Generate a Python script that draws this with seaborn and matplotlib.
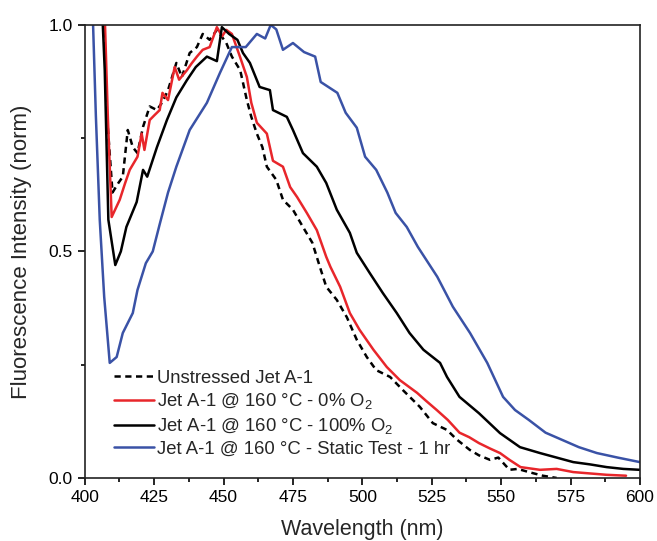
import numpy as np
import pandas as pd
import matplotlib
matplotlib.use("Agg")
import matplotlib.pyplot as plt
from matplotlib.ticker import MultipleLocator
import seaborn as sns

# Values (wavelength in nm, normalised intensity)
UNSTRESSED_X = [406.5, 408, 410, 412, 413.7, 415.5, 417.3, 419, 421, 423.4, 426, 428, 430, 433, 435,
                437.8, 440.4, 442.5, 445, 447.6, 451, 453, 456, 458.4, 460, 462, 464, 465.6, 469, 471.4,
                475, 478.6, 482, 484.7, 487, 490.8, 494.4, 498, 501.6, 505, 510, 514.6, 520.7, 525.4,
                530.5, 534, 538.7, 542, 546, 549, 553, 556, 560, 565, 570]
UNSTRESSED_Y = [1.1, 0.8, 0.63, 0.65, 0.665, 0.768, 0.73, 0.717, 0.775, 0.82, 0.812, 0.83, 0.856, 0.916, 0.885,
                0.938, 0.951, 0.98, 0.967, 0.989, 0.96, 0.93, 0.9, 0.834, 0.797, 0.76, 0.73, 0.687, 0.658, 0.614,
                0.592, 0.554, 0.519, 0.466, 0.422, 0.393, 0.355, 0.305, 0.267, 0.238, 0.223, 0.194, 0.157, 0.121,
                0.106, 0.085, 0.062, 0.05, 0.04, 0.045, 0.018, 0.02, 0.013, 0.005, 0.0]

RED_X = [406.8, 408.3, 409.7, 412.6, 414.5, 416.2, 419, 420.5, 421.5, 423.4, 425, 427, 428, 430, 432.4,
         434, 436.8, 438.5, 440.4, 442.5, 445, 447.6, 449.5, 451, 453, 455.9, 458.4, 460, 462, 465.6,
         467.8, 471.4, 474, 476.5, 480, 483.6, 487, 488.5, 492, 495.5, 499, 504, 508.8, 513.5, 519.7,
         523, 526.8, 530.8, 535, 538.5, 542, 546, 549.6, 553, 557, 564, 570, 576, 582, 588, 595]
RED_Y = [1.1, 0.8, 0.576, 0.614, 0.65, 0.68, 0.709, 0.76, 0.724, 0.79, 0.8, 0.812, 0.85, 0.834, 0.907,
         0.879, 0.9, 0.915, 0.93, 0.945, 0.951, 0.995, 0.975, 0.989, 0.98, 0.93, 0.885, 0.828, 0.784, 0.76,
         0.70, 0.687, 0.642, 0.62, 0.585, 0.547, 0.488, 0.466, 0.422, 0.364, 0.327, 0.283, 0.245, 0.216, 0.188,
         0.17, 0.15, 0.128, 0.1, 0.09, 0.077, 0.065, 0.055, 0.04, 0.024, 0.018, 0.02, 0.013, 0.01, 0.007, 0.005]

BLACK_X = [405.8, 407.2, 408.5, 411, 413, 415, 418.7, 421, 422.5, 426, 429.6, 433, 436.8, 440, 444,
           447.6, 449.4, 452, 455, 457, 459.5, 463, 466.7, 467.8, 472.8, 475, 478.6, 483.6, 487, 490.8,
           495.5, 498, 502.7, 507.4, 512.4, 517, 522, 528, 530.5, 535, 542, 549.6, 556.8, 564, 570,
           576, 582, 588, 594, 600]
BLACK_Y = [1.1, 0.9, 0.57, 0.47, 0.5, 0.554, 0.609, 0.68, 0.665, 0.73, 0.79, 0.84, 0.878, 0.907, 0.93,
           0.92, 0.995, 0.98, 0.967, 0.938, 0.916, 0.863, 0.856, 0.812, 0.797, 0.768, 0.717, 0.687, 0.651, 0.592,
           0.541, 0.497, 0.452, 0.408, 0.364, 0.32, 0.283, 0.254, 0.223, 0.179, 0.143, 0.099, 0.068, 0.055, 0.045,
           0.035, 0.03, 0.024, 0.02, 0.018]

BLUE_X = [402.5, 404, 405.4, 407, 409, 411.5, 413.7, 417.3, 419, 422, 424.5, 427, 430, 433, 437.8,
          444, 448.7, 453, 458, 462, 465, 467, 469, 471.4, 475, 479, 483, 485, 491, 494,
          498, 501, 505, 509, 512, 516, 520, 527, 532.6, 538.8, 545, 550.7, 555, 560, 566,
          572, 578, 584.5, 592, 600]
BLUE_Y = [1.1, 0.8, 0.57, 0.4, 0.254, 0.267, 0.32, 0.364, 0.415, 0.474, 0.5, 0.56, 0.63, 0.687, 0.768,
          0.828, 0.894, 0.951, 0.951, 0.98, 0.97, 1.0, 0.99, 0.945, 0.96, 0.94, 0.93, 0.874, 0.85, 0.806,
          0.773, 0.709, 0.68, 0.63, 0.585, 0.554, 0.51, 0.444, 0.378, 0.32, 0.254, 0.179, 0.15, 0.128, 0.1,
          0.084, 0.068, 0.055, 0.045, 0.035]

LABELS = [
    "Unstressed Jet A-1",
    "Jet A-1 @ 160 °C - 0% O$_\\mathregular{2}$",
    "Jet A-1 @ 160 °C - 100% O$_\\mathregular{2}$",
    "Jet A-1 @ 160 °C - Static Test - 1 hr",
]

sns.set_style("ticks")
plt.rcParams["font.family"] = ["Liberation Sans", "DejaVu Sans"]
plt.rcParams["mathtext.fontset"] = "custom"
plt.rcParams["mathtext.rm"] = "Liberation Sans"

fig = plt.figure(figsize=(6.57, 5.41), dpi=100)
ax = fig.add_axes([0.129, 0.1165, 0.845, 0.8375])

lw = 1.8
sns.lineplot(x=UNSTRESSED_X, y=UNSTRESSED_Y, ax=ax, color="black", lw=lw,
             linestyle=(0, (2.5, 1.8)), label=LABELS[0])
sns.lineplot(x=RED_X, y=RED_Y, ax=ax, color="#e8262b", lw=lw, label=LABELS[1])
sns.lineplot(x=BLACK_X, y=BLACK_Y, ax=ax, color="black", lw=lw, label=LABELS[2])
sns.lineplot(x=BLUE_X, y=BLUE_Y, ax=ax, color="#3a52a6", lw=lw, label=LABELS[3])

ax.set_xlim(400, 600)
ax.set_ylim(0, 1.0)
ax.xaxis.set_major_locator(MultipleLocator(25))
ax.xaxis.set_minor_locator(MultipleLocator(12.5))
ax.yaxis.set_major_locator(MultipleLocator(0.5))
ax.yaxis.set_minor_locator(MultipleLocator(0.25))
ax.tick_params(which="both", direction="out", top=False, right=False, labelsize=12.5, colors="black")
ax.tick_params(which="major", length=5, width=1.2)
ax.tick_params(which="minor", length=3, width=1.2)
for s in ax.spines.values():
    s.set_linewidth(1.2)
    s.set_color("#222222")

ax.set_xlabel("Wavelength (nm)", fontsize=15.5, labelpad=10)
ax.set_ylabel("Fluorescence Intensity (norm)", fontsize=16, labelpad=12)

leg = ax.legend(loc="lower left", bbox_to_anchor=(0.052, 0.045), frameon=False, fontsize=13.3,
                handlelength=2.2, handletextpad=0.15, labelspacing=0.25, borderaxespad=0,
                borderpad=0)

fig.savefig("out.png", dpi=100)
